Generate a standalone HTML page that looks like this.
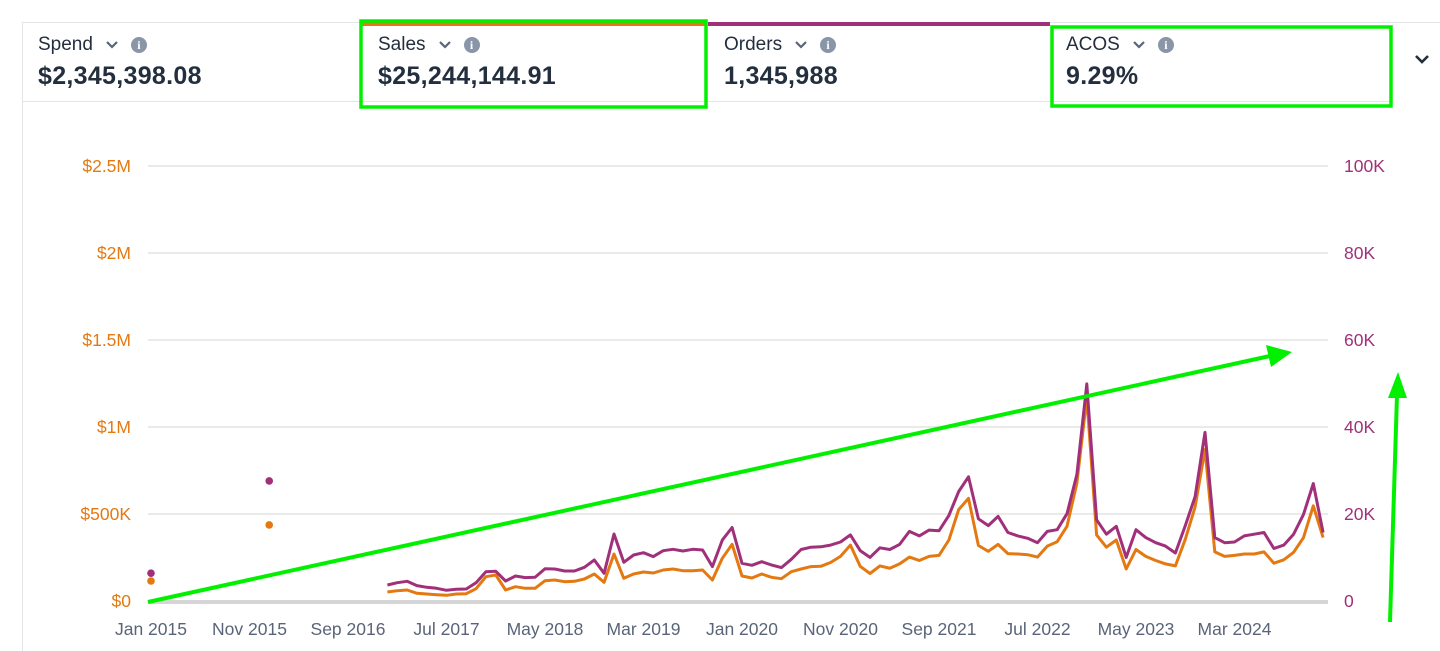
<!DOCTYPE html>
<html><head><meta charset="utf-8"><style>
html,body{margin:0;padding:0;width:1440px;height:650px;overflow:hidden;background:#fff;font-family:"Liberation Sans",sans-serif}
.card{position:absolute;top:22px;height:80px;box-sizing:border-box}
.lbl{position:absolute;left:16px;top:12px;font-size:19px;color:#232f3e;display:flex;align-items:center}
.val{position:absolute;left:16px;top:40px;font-size:25px;font-weight:bold;color:#232f3e;letter-spacing:0.3px}
.info{display:inline-block;width:16px;height:16px;border-radius:50%;background:#8a96a8;color:#fff;font-size:12px;font-weight:bold;text-align:center;line-height:16px;font-family:"Liberation Serif",serif;margin-left:12px}
.chev{margin-left:12px;width:14px;height:10px}
</style></head><body>
<div style="position:absolute;left:22px;top:22px;width:1418px;height:628px;border-left:1px solid #e3e6e8;border-top:1px solid #e3e6e8"></div>
<div style="position:absolute;left:22px;top:101px;width:1370px;height:1px;background:#e3e6e8"></div>
<div class="card" style="left:22px;width:340px"><div class="lbl">Spend <svg class="chev" viewBox="0 0 14 10"><path d="M2 2 L7 7 L12 2" fill="none" stroke="#5a6478" stroke-width="2.2"/></svg><span class="info">i</span></div><div class="val">$2,345,398.08</div></div>
<div class="card" style="left:362px;width:345px;border-top:4px solid #e47911"><div class="lbl" style="top:8px">Sales <svg class="chev" viewBox="0 0 14 10"><path d="M2 2 L7 7 L12 2" fill="none" stroke="#5a6478" stroke-width="2.2"/></svg><span class="info">i</span></div><div class="val" style="top:36px">$25,244,144.91</div></div>
<div class="card" style="left:708px;width:342px;border-top:4px solid #a0307a"><div class="lbl" style="top:8px">Orders <svg class="chev" viewBox="0 0 14 10"><path d="M2 2 L7 7 L12 2" fill="none" stroke="#5a6478" stroke-width="2.2"/></svg><span class="info">i</span></div><div class="val" style="top:36px">1,345,988</div></div>
<div class="card" style="left:1050px;width:342px"><div class="lbl">ACOS <svg class="chev" viewBox="0 0 14 10"><path d="M2 2 L7 7 L12 2" fill="none" stroke="#5a6478" stroke-width="2.2"/></svg><span class="info">i</span></div><div class="val">9.29%</div></div>
<svg style="position:absolute;left:1414px;top:54px" width="16" height="12" viewBox="0 0 16 12"><path d="M2 2 L8 8 L14 2" fill="none" stroke="#232f3e" stroke-width="2.6"/></svg>
<svg id="chart" width="1440" height="650" style="position:absolute;left:0;top:0" xmlns="http://www.w3.org/2000/svg"></svg>
<script>
const xLabels=["Jan 2015","Nov 2015","Sep 2016","Jul 2017","May 2018","Mar 2019","Jan 2020","Nov 2020","Sep 2021","Jul 2022","May 2023","Mar 2024"];
const xLabelIdx=[0,10,20,30,40,50,60,70,80,90,100,110];
const leftTicks=[0,500000,1000000,1500000,2000000,2500000];
const leftTickLabels=["$0","$500K","$1M","$1.5M","$2M","$2.5M"];
const rightTicks=[0,20000,40000,60000,80000,100000];
const rightTickLabels=["0","20K","40K","60K","80K","100K"];
const dotIdx=[0,12];
const dotSales=[115000,437000];
const dotOrders=[6400,27600];
const lineStart=24;
const salesK=[51.7,59.4,63.2,44.1,40.2,36.4,32.6,40.2,42.1,70.9,139.9,149.4,63.2,82.4,72.8,72.8,116.9,120.7,111.2,113.1,126.4,155.2,107.3,270,130.3,155.2,166.7,160.9,178.2,183.9,174.3,174.3,178.2,120.7,245.2,325.6,143.7,132.2,155.2,136,128.3,168.5,
183.9,197.7,199.4,221.3,256.3,321.3,199.4,158,201.7,187.9,213.2,252.3,232.8,256.3,262.1,350.6,525.3,590.2,319,285.6,325.3,272.4,270.1,266.1,252.3,315.5,340.8,429.3,678,1169,379.9,309.2,350.6,183.9,296,256.3,232.8,213.2,201.7,354.6,540.8,870.7,282.2,256.3,262.1,270.1,270.1,282.2,217.2,236.8,279.9,364.4,547.1,364.4];
const ordersK=[3.68,4.21,4.52,3.53,3.14,2.91,2.45,2.68,2.76,4.21,6.74,6.82,4.6,5.75,5.37,5.44,7.43,7.36,6.9,6.9,7.74,9.43,6.36,15.4,8.9,10.58,11.1,10.2,11.57,11.88,11.5,11.88,11.72,7.9,14.0,16.9,8.66,8.2,9.04,8.28,7.67,9.58,
11.84,12.37,12.46,12.85,13.56,15.2,11.59,10.02,12.23,11.84,13.01,16.0,14.97,16.3,16.14,19.68,25.17,28.55,18.9,17.33,19.45,15.75,14.97,14.41,13.4,16.0,16.39,20.07,29.1,49.9,18.67,15.36,17.17,10.02,16.39,14.58,13.4,12.62,11.04,17.33,24.0,38.76,14.58,13.4,13.56,14.97,15.36,15.75,12.07,12.85,15.36,19.91,26.99,15.75];
const svg=document.getElementById('chart');const NS='http://www.w3.org/2000/svg';
const X=i=>151+i*9.85;
const YL=v=>601-v*435/2500000;
const YR=v=>601-v*435/100000;
function mk(t,a,txt){const e=document.createElementNS(NS,t);for(const k in a)e.setAttribute(k,a[k]);if(txt!=null)e.textContent=txt;svg.appendChild(e);return e;}
leftTicks.forEach((v,i)=>{
 if(i>0){const g=mk('line',{x1:148,x2:1328,y1:YL(v),y2:YL(v),stroke:'#e3e3e3','stroke-width':1.5});
 
 }
 const t=mk('text',{x:131,y:YL(v)+6,'text-anchor':'end',fill:'#e47911','font-size':17.5,'font-family':'Liberation Sans'},leftTickLabels[i]);
 
 
});
rightTicks.forEach((v,i)=>{
 const t=mk('text',{x:1344,y:YR(v)+6,fill:'#a0307a','font-size':17.5,'font-family':'Liberation Sans'},rightTickLabels[i]);
 
 
});
const ax=mk('line',{x1:148,x2:1328,y1:602,y2:602,stroke:'#d5d5d5','stroke-width':4});


xLabels.forEach((l,i)=>{
 const t=mk('text',{x:X(xLabelIdx[i]),y:635,'text-anchor':'middle',fill:'#5a6478','font-size':17.5,'font-family':'Liberation Sans'},l);
 
 
});
const ptsO=ordersK.map((v,i)=>X(lineStart+i).toFixed(1)+','+YR(v*1000).toFixed(1)).join(' ');
const ptsS=salesK.map((v,i)=>X(lineStart+i).toFixed(1)+','+YL(v*1000).toFixed(1)).join(' ');
const ls=mk('polyline',{points:ptsS,fill:'none',stroke:'#e47911','stroke-width':3,'stroke-linejoin':'round'});


const lo=mk('polyline',{points:ptsO,fill:'none',stroke:'#a0307a','stroke-width':3,'stroke-linejoin':'round'});


dotIdx.forEach((d,i)=>{
 const a=mk('circle',{cx:X(d),cy:YL(dotSales[i]),r:3.8,fill:'#e47911'});
 
 
 const b=mk('circle',{cx:X(d),cy:YR(dotOrders[i]),r:3.8,fill:'#a0307a'});
 
 
});
const r1=mk('rect',{x:361,y:21,width:345,height:86,fill:'none',stroke:'#00f000','stroke-width':3.5});


const r2=mk('rect',{x:1052,y:27,width:339,height:79,fill:'none',stroke:'#00f000','stroke-width':3.5});


const a1=mk('line',{x1:148,y1:602,x2:1270,y2:356,stroke:'#00f000','stroke-width':4});


const h1=mk('polygon',{points:'1292,352 1266,345 1271,367',fill:'#00f000'});


const a2=mk('line',{x1:1390,y1:622,x2:1397,y2:395,stroke:'#00f000','stroke-width':4});


const h2=mk('polygon',{points:'1398,372 1388,398 1407,398',fill:'#00f000'});


</script>
</body></html>
